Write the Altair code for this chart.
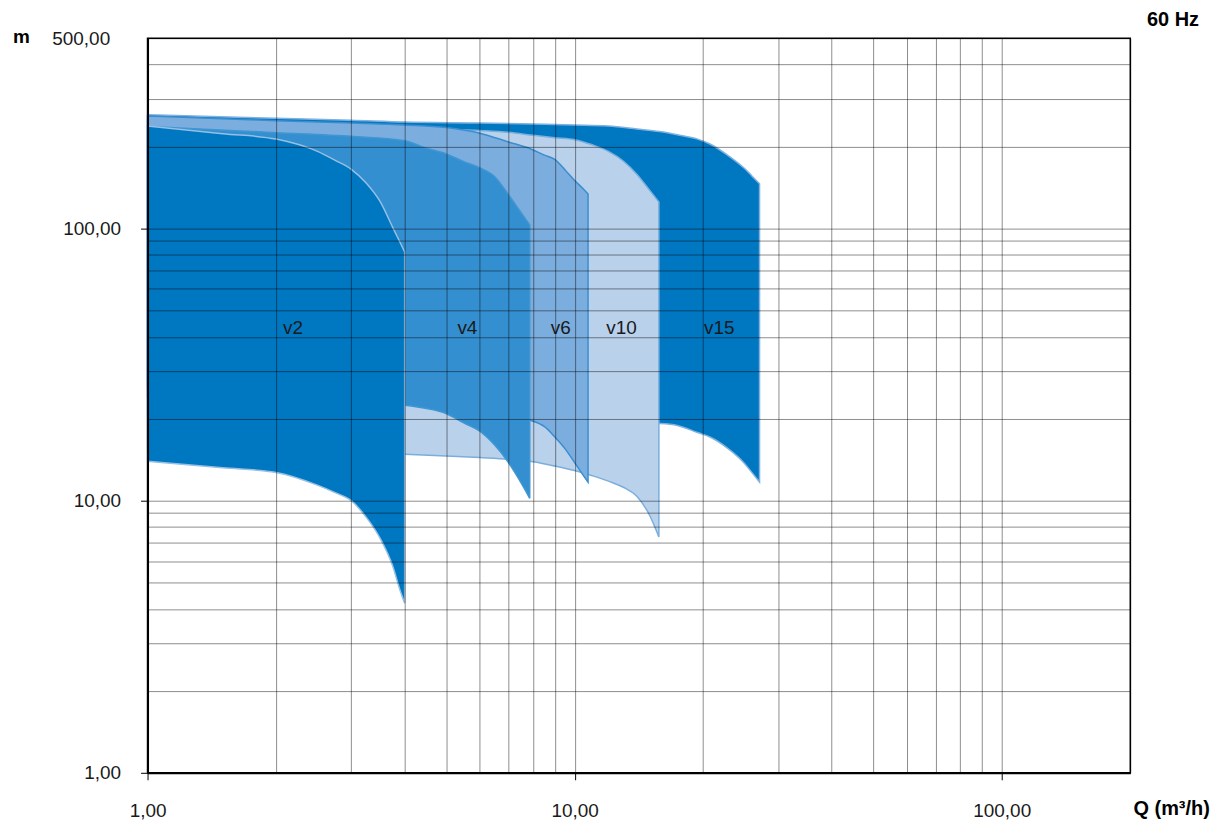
import altair as alt
import pandas as pd

# ---- data ----
series_names = ["v15", "v10", "v6", "v4", "v2"]  # drawing order: bottom -> top

q2 = [1, 1.5, 2, 2.5, 2.75, 3, 3.25, 3.5, 3.75, 3.9, 4.0]
top2 = [238, 223, 213, 192, 178, 165, 147, 126, 101, 89, 82]
bot2 = [13.95, 13.2, 12.7, 11.4, 10.7, 10.0, 8.7, 7.3, 5.75, 4.7, 4.2]

q4 = [1, 2, 3, 4, 4.5, 5, 5.5, 6, 6.5, 7, 7.5, 7.85]
top4 = [237, 225, 218, 210, 197, 188, 176, 167, 155, 133, 114, 103]
bot4 = [24, 23.5, 23, 22.4, 21.8, 20.9, 19.3, 18.0, 16.0, 13.8, 11.6, 10.2]

q6 = [1, 2, 3, 4, 5, 6, 7, 7.9, 8.5, 9, 9.5, 10, 10.4, 10.75]
top6 = [259, 249, 244, 240, 235, 224, 208, 196, 186, 179, 164, 150, 141.5, 134]
bot6 = [26, 25, 24.5, 23.8, 22.5, 21.3, 20.4, 19.7, 18.7, 17.1, 15.5, 13.8, 12.6, 11.7]

q10 = [1, 2, 3, 4, 5, 6, 7, 8, 9, 10, 11, 12, 13, 14, 15, 15.75]
top10 = [250, 244, 239, 235, 232, 229, 225.5, 220, 215.5, 212, 203, 192, 177, 158, 138, 125]
bot10 = [15.5, 15.3, 15.1, 14.8, 14.6, 14.4, 14.2, 13.9, 13.4, 12.9, 12.35, 11.8, 11.2, 10.35, 8.8, 7.35]

q15 = [1, 2, 3, 4, 6, 8, 10, 12, 14, 15.8, 17.4, 19.4, 20.8, 22.8, 25, 26, 27.1]
top15 = [262, 254, 250, 246, 244, 242, 240, 238, 232, 227, 221, 213, 204, 186, 166, 156, 146]
bot15 = [20.5, 20.3, 20.1, 20, 19.8, 19.6, 19.5, 19.4, 19.3, 19.2, 18.9, 17.8, 17.1, 15.6, 13.7, 12.7, 11.7]

label_names = ["v2", "v4", "v6", "v10", "v15"]
label_q = [2.19, 5.61, 9.28, 12.87, 21.8]
label_h = [43, 43, 43, 43, 43]

grid_x = [1, 2, 3, 4, 5, 6, 7, 8, 9, 10, 20, 30, 40, 50, 60, 70, 80, 90, 100, 200]
grid_y = [1, 2, 3, 4, 5, 6, 7, 8, 9, 10, 20, 30, 40, 50, 60, 70, 80, 90, 100, 200, 300, 400, 500]

fills = {"v2": "#0077c1", "v4": "#348fd0", "v6": "#7badde", "v10": "#b9d1eb", "v15": "#0077c1"}
strokes = {"v2": "#95bfe4", "v4": "#3f96d3", "v6": "#3a8ed0", "v10": "#7aaedc", "v15": "#7fb2e0"}

curves = {
    "v2": (q2, top2, bot2),
    "v4": (q4, top4, bot4),
    "v6": (q6, top6, bot6),
    "v10": (q10, top10, bot10),
    "v15": (q15, top15, bot15),
}

FONT = "Liberation Sans"
major = "datum.value == 1 || datum.value == 10 || datum.value == 100"
lab = "replace(format(datum.value, '.2f'), '.', ',')"

x_scale = alt.Scale(type="log", domain=[1, 200], nice=False)
y_scale = alt.Scale(type="log", domain=[1, 500], nice=False)

x_axis = alt.Axis(
    values=grid_x, grid=True, gridColor="#000", gridOpacity=0.45, gridWidth=1,
    labelExpr=f"{major} ? {lab} : ''",
    tickOpacity={"condition": {"test": major, "value": 1}, "value": 0},
    tickSize=7, tickColor="#000", tickWidth=1,
    domainColor="#000", domainWidth=2,
    labelFont=FONT, labelFontSize=19, labelColor="#1a1a1a", labelPadding=22,
    labelFlush=False, labelOverlap=False,
    title="Q (m³/h)", titleFont=FONT, titleFontSize=20, titleFontWeight="bold",
    titleColor="#000", titleX=1027, titleY=36, titleAlign="center", titleBaseline="middle",
    zindex=1,
)
y_axis = alt.Axis(
    values=grid_y, grid=True, gridColor="#000", gridOpacity=0.45, gridWidth=1,
    labelExpr=f"{major} || datum.value == 500 ? {lab} : ''",
    labelPadding={"condition": {"test": "datum.value == 500", "value": 31}, "value": 20},
    tickOpacity={"condition": {"test": major, "value": 1}, "value": 0},
    tickSize=7, tickColor="#000", tickWidth=1,
    domainColor="#000", domainWidth=2,
    labelFont=FONT, labelFontSize=19, labelColor="#1a1a1a",
    labelOverlap=False,
    title="m", titleFont=FONT, titleFontSize=19, titleFontWeight="bold", titleColor="#000",
    titleAngle=0, titleX=-127, titleY=-2, titleAlign="center", titleBaseline="middle",
    zindex=1,
)

layers = []
for name in series_names:
    q, top, bot = curves[name]
    df = pd.DataFrame({"q": q, "top": top, "bottom": bot})
    layers.append(
        alt.Chart(df).mark_area(
            color=fills[name], stroke=strokes[name], strokeWidth=1.5,
            interpolate="monotone", opacity=1,
        ).encode(
            x=alt.X("q:Q", scale=x_scale, axis=x_axis),
            y=alt.Y("top:Q", scale=y_scale, axis=y_axis),
            y2="bottom:Q",
        )
    )

labels_df = pd.DataFrame({"q": label_q, "top": label_h, "name": label_names})
layers.append(
    alt.Chart(labels_df).mark_text(
        font=FONT, fontSize=19, color="#1a1a1a", align="center", baseline="middle"
    ).encode(
        x=alt.X("q:Q", scale=x_scale, axis=x_axis),
        y=alt.Y("top:Q", scale=y_scale, axis=y_axis),
        text="name:N",
    )
)

chart = alt.layer(*layers).properties(
    width=986, height=737,
    autosize=alt.AutoSizeParams(type="none"),
    padding={"left": 140, "top": 29, "right": 85, "bottom": 46},
    title=alt.TitleParams(
        text="60 Hz", anchor="end", frame="group", font=FONT, fontSize=20,
        fontWeight="bold", color="#000", dx=69, dy=11, offset=8,
    ),
).configure_view(stroke="#000", strokeWidth=1.5)

chart.save("out.html", embed_options={"renderer": "svg", "actions": False})
